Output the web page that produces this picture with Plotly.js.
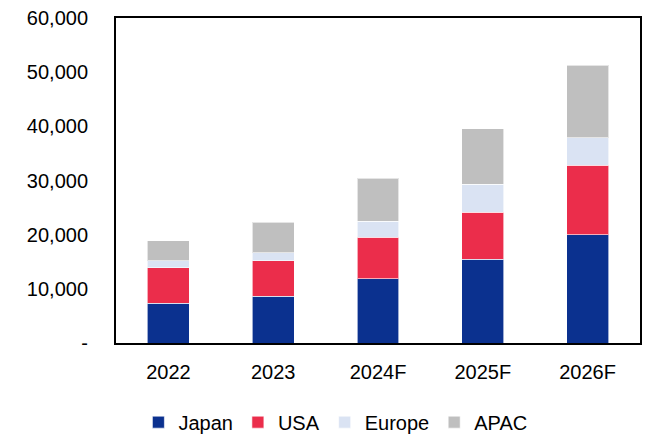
<!DOCTYPE html>
<html>
<head>
<meta charset="utf-8">
<script src="https://cdn.plot.ly/plotly-3.0.1.min.js"></script>
<style>html,body{margin:0;padding:0;background:#fff;}#chart{width:645px;height:437px;}</style>
</head>
<body>
<div id="chart"></div>
<script>
const categories = ["2022", "2023", "2024F", "2025F", "2026F"];
const japan = [7330, 8620, 11870, 15450, 20000];
const usa = [6570, 6520, 7640, 8680, 12800];
const europe = [1300, 1530, 3010, 5160, 5100];
const apac = [3690, 5610, 7940, 10280, 13420];
const yTickVals = [0, 10000, 20000, 30000, 40000, 50000, 60000];
const yTickText = ["-", "10,000", "20,000", "30,000", "40,000", "50,000", "60,000"];

const seriesNames = ["Japan", "USA", "Europe", "APAC"];
const seriesValues = [japan, usa, europe, apac];
const colors = ["#0B318F", "#EB2D4B", "#DAE3F3", "#BFBFBF"];

const traces = seriesNames.map((n, i) => ({
  type: "bar",
  name: n,
  x: categories,
  y: seriesValues[i],
  marker: { color: colors[i], line: { color: "rgba(255,255,255,0.6)", width: 1 } },
  hoverinfo: "skip"
}));

const font = { family: "Liberation Sans, Arial, sans-serif", size: 20, color: "#000" };

const layout = {
  width: 645, height: 437,
  barmode: "stack",
  bargap: 0.6,
  margin: { l: 116, r: 5, t: 18, b: 94, autoexpand: false },
  paper_bgcolor: "#fff", plot_bgcolor: "#fff",
  font: font,
  showlegend: true,
  legend: { orientation: "h", xref: "container", yref: "container", x: 0.52, xanchor: "center", y: 0.034, yanchor: "middle", font: font, traceorder: "normal", itemwidth: 30 },
  xaxis: { type: "category", showgrid: false, showline: true, linecolor: "#000", linewidth: 2, mirror: true, ticks: "", tickfont: font, zeroline: false, ticklabelstandoff: 10 },
  yaxis: { range: [0, 60000], tickvals: yTickVals, ticktext: yTickText, showgrid: false, showline: true, linecolor: "#000", linewidth: 2, mirror: true, ticks: "", tickfont: font, zeroline: false, ticklabelstandoff: 22 }
};

Plotly.newPlot("chart", traces, layout, { displayModeBar: false, staticPlot: true });
</script>
</body>
</html>
